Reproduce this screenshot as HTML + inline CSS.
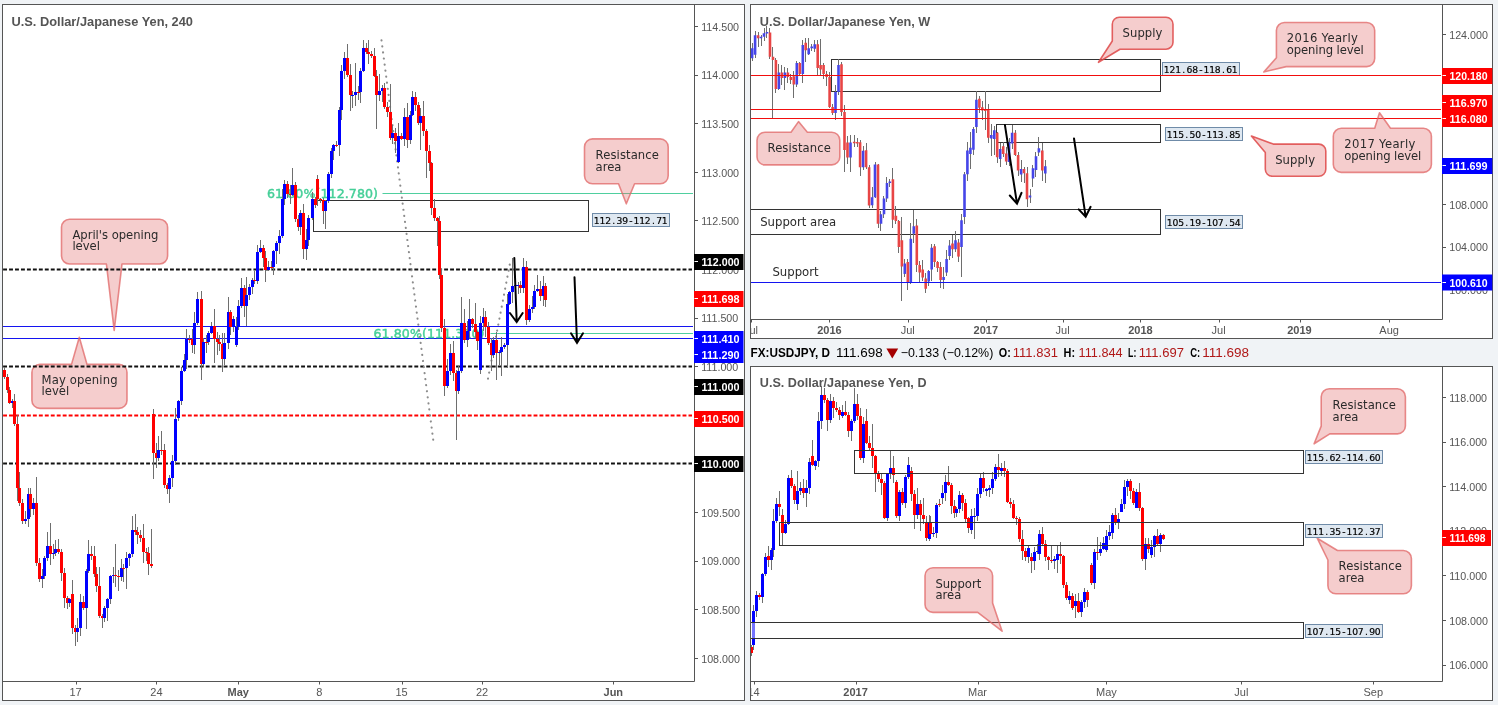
<!DOCTYPE html><html><head><meta charset="utf-8"><title>USDJPY charts</title>
<style>html,body{margin:0;padding:0;background:#f0f3f6}svg{display:block;will-change:transform}</style></head><body>
<svg width="1498" height="705" viewBox="0 0 1498 705">
<rect width="1498" height="705" fill="#f0f3f6"/>
<defs><clipPath id="cL"><rect x="3" y="5" width="690.5" height="676"/></clipPath>
<clipPath id="cW"><rect x="751" y="5" width="690.5" height="314"/></clipPath>
<clipPath id="cD"><rect x="751" y="367" width="690.5" height="314"/></clipPath>
<clipPath id="cWx"><rect x="751" y="320" width="740" height="18"/></clipPath>
<clipPath id="cDx"><rect x="751" y="682" width="740" height="18"/></clipPath></defs>
<rect x="2.5" y="4.5" width="742" height="696" fill="#fff" stroke="#555" stroke-width="1"/>
<path d="M694.5 4.5V681.5H2.5" stroke="#555" stroke-width="1" fill="none"/>
<g clip-path="url(#cL)">
<text x="11.5" y="26" font-family='"Liberation Sans",Arial,sans-serif' font-size="12.6" font-weight="bold" fill="#555" textLength="181.5" lengthAdjust="spacingAndGlyphs">U.S. Dollar/Japanese Yen, 240</text>
<path d="M3 326.5H693M3 338.5H693" stroke="#1414f0" stroke-width="1.1" fill="none"/>
<path d="M382.5 193.5H693M490.5 333.5H693" stroke="#4fcf9f" stroke-width="1.1" fill="none"/>
<path d="M69.5 219.3H159.6A8 8 0 0 1 167.6 227.3V256A8 8 0 0 1 159.6 264H122L114.2 330.4L106.4 264H69.5A8 8 0 0 1 61.5 256V227.3A8 8 0 0 1 69.5 219.3Z" fill="rgba(224,102,102,0.33)" stroke="rgba(224,102,102,0.75)" stroke-width="1.6" stroke-linejoin="round"/>
<text x="72.4" y="238.7" font-family='"DejaVu Sans",Verdana,sans-serif' font-size="11.6" fill="#2a2a2a" textLength="86" lengthAdjust="spacing">April's opening</text>
<text x="72.4" y="250" font-family='"DejaVu Sans",Verdana,sans-serif' font-size="11.6" fill="#2a2a2a">level</text>
<path d="M39.9 364.4H71.5L79.3 337.3L87 364.4H119A8 8 0 0 1 127 372.4V400.4A8 8 0 0 1 119 408.4H39.9A8 8 0 0 1 31.9 400.4V372.4A8 8 0 0 1 39.9 364.4Z" fill="rgba(224,102,102,0.33)" stroke="rgba(224,102,102,0.75)" stroke-width="1.6" stroke-linejoin="round"/>
<text x="41.6" y="384" font-family='"DejaVu Sans",Verdana,sans-serif' font-size="11.6" fill="#2a2a2a" textLength="76" lengthAdjust="spacing">May opening</text>
<text x="41.6" y="395.3" font-family='"DejaVu Sans",Verdana,sans-serif' font-size="11.6" fill="#2a2a2a">level</text>
<path d="M3.1 269.5H692" stroke="#111" stroke-width="2" stroke-dasharray="3.9 2.06" fill="none"/>
<path d="M3.1 366.6H692" stroke="#111" stroke-width="2" stroke-dasharray="3.9 2.06" fill="none"/>
<path d="M3.1 463.5H692" stroke="#111" stroke-width="2" stroke-dasharray="3.9 2.06" fill="none"/>
<path d="M3.1 415.4H692" stroke="#f00" stroke-width="2" stroke-dasharray="3.9 2.06" fill="none"/>
<rect x="313.5" y="200.5" width="275" height="31" fill="none" stroke="#333" stroke-width="1"/>
<text x="267" y="198" font-family='"DejaVu Sans",Verdana,sans-serif' font-size="12.6" fill="#45cf98" stroke="#45cf98" stroke-width="0.45" textLength="111" lengthAdjust="spacing">61.80%(112.780)</text>
<text x="373.5" y="337.5" font-family='"DejaVu Sans",Verdana,sans-serif' font-size="12.6" fill="#45cf98" stroke="#45cf98" stroke-width="0.45" textLength="111" lengthAdjust="spacing">61.80%(111.310)</text>
<path d="M381.5 40.3L433.2 439.7" stroke="#8c8c8c" stroke-width="2.1" stroke-dasharray="0.1 6" stroke-linecap="round" fill="none"/>
<path d="M488 378.6L510.7 259.4" stroke="#8c8c8c" stroke-width="2.1" stroke-dasharray="0.1 6" stroke-linecap="round" fill="none"/>
<path d="M4.5 367V379M7.5 374V393M9.5 387V404M12.5 399V408M14.5 394V426M17.5 415V501M19.5 472V506M22.5 499V524M25.5 511V524M28.5 488V527M30.5 488V517M33.5 498V515M36.5 477V566M39.5 558V582M42.5 569V588M44.5 556V579M47.5 532V561M50.5 523V565M53.5 544V559M55.5 540V556M58.5 539V554M61.5 549V581M64.5 568V608M67.5 596V609M69.5 598V607M72.5 580V634M75.5 625V646M77.5 618V642M80.5 594V636M83.5 596V610M86.5 569V629M88.5 540V573M91.5 546V560M94.5 546V577M96.5 567V592M99.5 567V618M102.5 614V628M104.5 606V622M107.5 598V621M110.5 575V604M113.5 567V583M115.5 544V587M118.5 570V591M121.5 559V581M123.5 564V582M126.5 552V589M129.5 553V566M132.5 516V557M135.5 514V535M137.5 527V544M140.5 530V542M143.5 524V563M146.5 548V561M148.5 547V575M151.5 529V568M153.5 409V479M156.5 443V468M158.5 436V461M161.5 431V455M164.5 444V488M167.5 483V494M169.5 475V503M172.5 455V487M175.5 408V465M178.5 400V421M181.5 367V405M184.5 354V372M186.5 329V369M189.5 335V343M192.5 329V353M194.5 312V354M197.5 292V325M201.5 291V380M203.5 338V366M206.5 335V353M208.5 331V345M211.5 322V334M214.5 309V363M217.5 332V355M219.5 335V351M222.5 333V372M224.5 333V365M228.5 297V349M230.5 310V335M233.5 316V332M236.5 317V347M238.5 300V330M241.5 278V308M244.5 285V317M246.5 277V326M249.5 284V300M252.5 278V294M254.5 271V284M257.5 245V284M260.5 240V253M263.5 245V267M265.5 251V282M268.5 261V271M271.5 261V270M273.5 250V275M276.5 241V264M279.5 230V254M282.5 189V238M284.5 180V205M287.5 181V198M290.5 185V204M292.5 168V196M295.5 182V222M298.5 215V231M300.5 210V235M303.5 204V259M306.5 229V260M308.5 215V246M312.5 192V220M315.5 197V208M317.5 175V206M320.5 198V203M323.5 198V224M325.5 200V229M328.5 172V203M331.5 148V178M333.5 144V160M336.5 141V147M339.5 107V156M341.5 65V120M344.5 52V79M347.5 44V77M350.5 64V111M352.5 91V108M355.5 63V106M358.5 86V100M360.5 68V103M363.5 40V72M366.5 43V54M368.5 40V64M371.5 51V58M374.5 48V77M376.5 70V129M379.5 74V101M382.5 85V102M384.5 83V109M387.5 102V117M390.5 84V140M392.5 125V144M395.5 128V153M398.5 123V163M401.5 133V140M404.5 108V146M407.5 103V148M410.5 111V144M412.5 91V116M415.5 92V111M418.5 102V125M420.5 108V150M423.5 101V136M426.5 129V178M429.5 145V171M431.5 162V215M434.5 199V221M437.5 217V246M439.5 216V279M441.5 269V332M444.5 319V396M447.5 359V388M450.5 344V375M453.5 341V381M456.5 370V440M458.5 366V394M461.5 297V373M464.5 309V343M467.5 321V347M469.5 299V338M472.5 318V328M475.5 303V338M477.5 331V350M480.5 316V374M483.5 308V331M485.5 311V337M488.5 322V345M491.5 338V371M493.5 337V358M496.5 332V380M499.5 350V365M501.5 337V376M504.5 343V349M507.5 294V368M509.5 291V305M512.5 258V303M515.5 278V288M518.5 282V294M520.5 281V293M523.5 258V293M526.5 261V325M529.5 305V322M532.5 296V313M534.5 285V309M537.5 275V292M540.5 281V301M543.5 276V306M545.5 283V307" stroke="#6e6e6e" stroke-width="1" fill="none"/>
<path d="M3 370h3v7h-3zM6 377h3v13h-3zM8 390h3v13h-3z" fill="#ff0000"/>
<path d="M11 401h3v2h-3z" fill="#0000ff"/>
<path d="M13 401h3v23h-3zM16 424h3v64h-3zM18 488h3v15h-3zM21 503h3v18h-3z" fill="#ff0000"/>
<path d="M24 519h3v2h-3zM27 494h3v25h-3z" fill="#0000ff"/>
<path d="M29 494h3v15h-3z" fill="#ff0000"/>
<path d="M32 503h3v6h-3z" fill="#0000ff"/>
<path d="M35 503h3v60h-3zM38 563h3v16h-3z" fill="#ff0000"/>
<path d="M41 576h3v3h-3zM43 558h3v18h-3zM46 546h3v12h-3z" fill="#0000ff"/>
<path d="M49 546h3v8h-3z" fill="#ff0000"/>
<path d="M52 553h3v1h-3zM54 549h3v4h-3z" fill="#0000ff"/>
<path d="M57 549h3v3h-3zM60 552h3v21h-3zM63 573h3v25h-3zM66 598h3v5h-3z" fill="#ff0000"/>
<path d="M68 599h3v4h-3z" fill="#0000ff"/>
<path d="M71 594h3v34h-3zM74 628h3v4h-3z" fill="#ff0000"/>
<path d="M76 628h3v4h-3zM79 602h3v26h-3z" fill="#0000ff"/>
<path d="M82 602h3v6h-3z" fill="#ff0000"/>
<path d="M85 571h3v37h-3zM87 554h3v17h-3z" fill="#0000ff"/>
<path d="M90 554h3v2h-3zM93 556h3v18h-3zM95 574h3v12h-3zM98 586h3v30h-3zM101 616h3v2h-3z" fill="#ff0000"/>
<path d="M103 608h3v10h-3zM106 599h3v9h-3zM109 576h3v23h-3zM112 575h3v1h-3z" fill="#0000ff"/>
<path d="M114 575h3v1h-3zM117 576h3v1h-3z" fill="#ff0000"/>
<path d="M120 568h3v9h-3z" fill="#0000ff"/>
<path d="M122 568h3v1h-3z" fill="#ff0000"/>
<path d="M125 558h3v10h-3zM128 554h3v4h-3zM131 530h3v24h-3z" fill="#0000ff"/>
<path d="M134 530h3v2h-3zM136 532h3v3h-3zM139 535h3v3h-3zM142 538h3v14h-3zM145 552h3v1h-3zM147 553h3v11h-3zM150 564h3v2h-3zM152 414h3v39h-3zM155 453h3v5h-3z" fill="#ff0000"/>
<path d="M157 450h3v8h-3z" fill="#0000ff"/>
<path d="M160 450h3v1h-3zM163 450h3v35h-3zM166 485h3v4h-3z" fill="#ff0000"/>
<path d="M168 478h3v11h-3zM171 461h3v17h-3zM174 419h3v42h-3zM177 401h3v17h-3zM180 371h3v30h-3zM183 360h3v11h-3zM185 339h3v21h-3z" fill="#0000ff"/>
<path d="M188 339h3v1h-3zM191 339h3v6h-3z" fill="#ff0000"/>
<path d="M193 323h3v22h-3zM196 299h3v24h-3z" fill="#0000ff"/>
<path d="M200 299h3v65h-3z" fill="#ff0000"/>
<path d="M202 342h3v22h-3z" fill="#0000ff"/>
<path d="M205 342h3v1h-3z" fill="#ff0000"/>
<path d="M207 333h3v9h-3zM210 326h3v7h-3z" fill="#0000ff"/>
<path d="M213 326h3v13h-3zM216 339h3v3h-3zM218 342h3v2h-3zM221 344h3v15h-3z" fill="#ff0000"/>
<path d="M223 343h3v16h-3zM227 312h3v31h-3z" fill="#0000ff"/>
<path d="M229 312h3v15h-3z" fill="#ff0000"/>
<path d="M232 319h3v8h-3zM235 327h3v18h-3zM237 306h3v21h-3zM240 288h3v18h-3z" fill="#0000ff"/>
<path d="M243 288h3v18h-3z" fill="#ff0000"/>
<path d="M245 295h3v11h-3zM248 287h3v8h-3zM251 280h3v7h-3z" fill="#0000ff"/>
<path d="M253 280h3v1h-3z" fill="#ff0000"/>
<path d="M256 252h3v29h-3zM259 248h3v4h-3z" fill="#0000ff"/>
<path d="M262 248h3v10h-3zM264 258h3v12h-3z" fill="#ff0000"/>
<path d="M267 267h3v3h-3z" fill="#0000ff"/>
<path d="M270 267h3v1h-3z" fill="#ff0000"/>
<path d="M272 251h3v16h-3zM275 243h3v8h-3zM278 236h3v7h-3zM281 199h3v37h-3zM283 184h3v15h-3z" fill="#0000ff"/>
<path d="M286 184h3v10h-3zM289 194h3v1h-3z" fill="#ff0000"/>
<path d="M291 185h3v10h-3z" fill="#0000ff"/>
<path d="M294 185h3v34h-3zM297 219h3v8h-3z" fill="#ff0000"/>
<path d="M299 213h3v14h-3z" fill="#0000ff"/>
<path d="M302 213h3v36h-3z" fill="#ff0000"/>
<path d="M305 240h3v9h-3zM307 218h3v22h-3zM311 199h3v19h-3z" fill="#0000ff"/>
<path d="M314 199h3v6h-3zM316 179h3v20h-3zM319 199h3v1h-3zM322 200h3v11h-3z" fill="#ff0000"/>
<path d="M324 201h3v10h-3zM327 174h3v27h-3zM330 151h3v23h-3zM332 145h3v6h-3z" fill="#0000ff"/>
<path d="M335 145h3v1h-3z" fill="#ff0000"/>
<path d="M338 110h3v35h-3zM340 71h3v39h-3zM343 58h3v13h-3z" fill="#0000ff"/>
<path d="M346 58h3v17h-3zM349 75h3v20h-3z" fill="#ff0000"/>
<path d="M351 95h3v1h-3zM354 92h3v3h-3z" fill="#0000ff"/>
<path d="M357 92h3v1h-3z" fill="#ff0000"/>
<path d="M359 71h3v21h-3zM362 48h3v23h-3z" fill="#0000ff"/>
<path d="M365 48h3v4h-3zM367 52h3v2h-3zM370 54h3v2h-3zM373 56h3v20h-3zM375 76h3v19h-3z" fill="#ff0000"/>
<path d="M378 91h3v4h-3zM381 88h3v3h-3z" fill="#0000ff"/>
<path d="M383 88h3v19h-3zM386 107h3v5h-3zM389 112h3v26h-3z" fill="#ff0000"/>
<path d="M391 133h3v5h-3z" fill="#0000ff"/>
<path d="M394 133h3v8h-3z" fill="#ff0000"/>
<path d="M397 136h3v26h-3z" fill="#0000ff"/>
<path d="M400 136h3v3h-3z" fill="#ff0000"/>
<path d="M403 117h3v22h-3z" fill="#0000ff"/>
<path d="M406 117h3v23h-3z" fill="#ff0000"/>
<path d="M409 115h3v25h-3zM411 97h3v18h-3z" fill="#0000ff"/>
<path d="M414 97h3v8h-3zM417 105h3v18h-3z" fill="#ff0000"/>
<path d="M419 116h3v7h-3z" fill="#0000ff"/>
<path d="M422 116h3v15h-3zM425 131h3v20h-3zM428 151h3v12h-3zM430 163h3v45h-3zM433 208h3v10h-3zM436 218h3v3h-3zM438 221h3v54h-3zM440 275h3v53h-3zM443 328h3v58h-3z" fill="#ff0000"/>
<path d="M446 371h3v15h-3zM449 353h3v18h-3z" fill="#0000ff"/>
<path d="M452 353h3v20h-3zM455 373h3v18h-3z" fill="#ff0000"/>
<path d="M457 371h3v20h-3zM460 323h3v48h-3z" fill="#0000ff"/>
<path d="M463 323h3v17h-3z" fill="#ff0000"/>
<path d="M466 331h3v9h-3zM468 319h3v12h-3z" fill="#0000ff"/>
<path d="M471 319h3v5h-3zM474 324h3v8h-3zM476 332h3v9h-3z" fill="#ff0000"/>
<path d="M479 323h3v47h-3zM482 317h3v6h-3z" fill="#0000ff"/>
<path d="M484 317h3v10h-3zM487 327h3v16h-3zM490 343h3v12h-3z" fill="#ff0000"/>
<path d="M492 340h3v15h-3z" fill="#0000ff"/>
<path d="M495 340h3v13h-3z" fill="#ff0000"/>
<path d="M498 352h3v1h-3zM500 347h3v5h-3zM503 345h3v2h-3zM506 304h3v41h-3zM508 292h3v12h-3zM511 286h3v6h-3zM514 285h3v1h-3zM517 285h3v1h-3z" fill="#0000ff"/>
<path d="M519 285h3v3h-3z" fill="#ff0000"/>
<path d="M522 267h3v21h-3z" fill="#0000ff"/>
<path d="M525 267h3v53h-3z" fill="#ff0000"/>
<path d="M528 309h3v11h-3zM531 307h3v2h-3zM533 291h3v16h-3zM536 289h3v2h-3z" fill="#0000ff"/>
<path d="M539 289h3v7h-3z" fill="#ff0000"/>
<path d="M542 286h3v10h-3z" fill="#0000ff"/>
<path d="M544 286h3v14h-3z" fill="#ff0000"/>
<path d="M514.3 257.9L516.7 322M509.9 313L516.7 322L522.7 313" stroke="#000" stroke-width="2" fill="none" stroke-linecap="round" stroke-linejoin="miter"/>
<path d="M574.5 277.3L577 342.8M571 333.3L577 342.8L583 333.3" stroke="#000" stroke-width="2" fill="none" stroke-linecap="round" stroke-linejoin="miter"/>
<path d="M592.5 138.9H660.2A8 8 0 0 1 668.2 146.9V175.8A8 8 0 0 1 660.2 183.8H634.6L626.3 203.8L618.5 183.8H592.5A8 8 0 0 1 584.5 175.8V146.9A8 8 0 0 1 592.5 138.9Z" fill="rgba(224,102,102,0.33)" stroke="rgba(224,102,102,0.75)" stroke-width="1.6" stroke-linejoin="round"/>
<text x="595.6" y="158.6" font-family='"DejaVu Sans",Verdana,sans-serif' font-size="11.6" fill="#2a2a2a" textLength="63.3" lengthAdjust="spacing">Resistance</text>
<text x="595.6" y="170.6" font-family='"DejaVu Sans",Verdana,sans-serif' font-size="11.6" fill="#2a2a2a">area</text>
<rect x="592.5" y="213.5" width="77" height="13" fill="#dfe8f1" stroke="#6f8ba8" stroke-width="1"/>
<text x="596.7 602.4 608.1 613.7 619.4 625.1 630.8 636.4 642.1 647.8 653.4 659.1 664.8" y="223.7" font-family='"DejaVu Sans",Verdana,sans-serif' font-size="9.2" fill="#000" stroke="#000" stroke-width="0.2" text-anchor="middle">112.39-112.71</text>
</g>
<path d="M694.5 26.5h3.5" stroke="#555" stroke-width="1"/>
<text x="701.2" y="30.7" font-family='"Liberation Sans",Arial,sans-serif' font-size="10.7" fill="#555">114.500</text>
<path d="M694.5 75.5h3.5" stroke="#555" stroke-width="1"/>
<text x="701.2" y="79.3" font-family='"Liberation Sans",Arial,sans-serif' font-size="10.7" fill="#555">114.000</text>
<path d="M694.5 123.5h3.5" stroke="#555" stroke-width="1"/>
<text x="701.2" y="127.9" font-family='"Liberation Sans",Arial,sans-serif' font-size="10.7" fill="#555">113.500</text>
<path d="M694.5 172.5h3.5" stroke="#555" stroke-width="1"/>
<text x="701.2" y="176.5" font-family='"Liberation Sans",Arial,sans-serif' font-size="10.7" fill="#555">113.000</text>
<path d="M694.5 220.5h3.5" stroke="#555" stroke-width="1"/>
<text x="701.2" y="225.1" font-family='"Liberation Sans",Arial,sans-serif' font-size="10.7" fill="#555">112.500</text>
<path d="M694.5 269.5h3.5" stroke="#555" stroke-width="1"/>
<text x="701.2" y="273.7" font-family='"Liberation Sans",Arial,sans-serif' font-size="10.7" fill="#555">112.000</text>
<path d="M694.5 318.5h3.5" stroke="#555" stroke-width="1"/>
<text x="701.2" y="322.3" font-family='"Liberation Sans",Arial,sans-serif' font-size="10.7" fill="#555">111.500</text>
<path d="M694.5 366.5h3.5" stroke="#555" stroke-width="1"/>
<text x="701.2" y="371" font-family='"Liberation Sans",Arial,sans-serif' font-size="10.7" fill="#555">111.000</text>
<path d="M694.5 415.5h3.5" stroke="#555" stroke-width="1"/>
<text x="701.2" y="419.6" font-family='"Liberation Sans",Arial,sans-serif' font-size="10.7" fill="#555">110.500</text>
<path d="M694.5 463.5h3.5" stroke="#555" stroke-width="1"/>
<text x="701.2" y="468.2" font-family='"Liberation Sans",Arial,sans-serif' font-size="10.7" fill="#555">110.000</text>
<path d="M694.5 512.5h3.5" stroke="#555" stroke-width="1"/>
<text x="701.2" y="516.8" font-family='"Liberation Sans",Arial,sans-serif' font-size="10.7" fill="#555">109.500</text>
<path d="M694.5 561.5h3.5" stroke="#555" stroke-width="1"/>
<text x="701.2" y="565.4" font-family='"Liberation Sans",Arial,sans-serif' font-size="10.7" fill="#555">109.000</text>
<path d="M694.5 609.5h3.5" stroke="#555" stroke-width="1"/>
<text x="701.2" y="614" font-family='"Liberation Sans",Arial,sans-serif' font-size="10.7" fill="#555">108.500</text>
<path d="M694.5 658.5h3.5" stroke="#555" stroke-width="1"/>
<text x="701.2" y="662.6" font-family='"Liberation Sans",Arial,sans-serif' font-size="10.7" fill="#555">108.000</text>
<rect x="694" y="254" width="49.5" height="16" fill="#000"/>
<path d="M694.5 261.5h3.5" stroke="#fff" stroke-width="1"/>
<text x="701.5" y="266.2" font-family='"Liberation Sans",Arial,sans-serif' font-size="11" font-weight="bold" fill="#fff" textLength="38" lengthAdjust="spacingAndGlyphs">112.000</text>
<rect x="694" y="291" width="49.5" height="16" fill="#f00"/>
<path d="M694.5 298.5h3.5" stroke="#fff" stroke-width="1"/>
<text x="701.5" y="303.2" font-family='"Liberation Sans",Arial,sans-serif' font-size="11" font-weight="bold" fill="#fff" textLength="38" lengthAdjust="spacingAndGlyphs">111.698</text>
<rect x="694" y="331" width="49.5" height="16" fill="#00f"/>
<path d="M694.5 338.5h3.5" stroke="#fff" stroke-width="1"/>
<text x="701.5" y="343.2" font-family='"Liberation Sans",Arial,sans-serif' font-size="11" font-weight="bold" fill="#fff" textLength="38" lengthAdjust="spacingAndGlyphs">111.410</text>
<rect x="694" y="347" width="49.5" height="16" fill="#00f"/>
<path d="M694.5 354.5h3.5" stroke="#fff" stroke-width="1"/>
<text x="701.5" y="359.2" font-family='"Liberation Sans",Arial,sans-serif' font-size="11" font-weight="bold" fill="#fff" textLength="38" lengthAdjust="spacingAndGlyphs">111.290</text>
<rect x="694" y="379" width="49.5" height="16" fill="#000"/>
<path d="M694.5 386.5h3.5" stroke="#fff" stroke-width="1"/>
<text x="701.5" y="391.2" font-family='"Liberation Sans",Arial,sans-serif' font-size="11" font-weight="bold" fill="#fff" textLength="38" lengthAdjust="spacingAndGlyphs">111.000</text>
<rect x="694" y="411" width="49.5" height="16" fill="#f00"/>
<path d="M694.5 418.5h3.5" stroke="#fff" stroke-width="1"/>
<text x="701.5" y="423.2" font-family='"Liberation Sans",Arial,sans-serif' font-size="11" font-weight="bold" fill="#fff" textLength="38" lengthAdjust="spacingAndGlyphs">110.500</text>
<rect x="694" y="456" width="49.5" height="16" fill="#000"/>
<path d="M694.5 463.5h3.5" stroke="#fff" stroke-width="1"/>
<text x="701.5" y="468.2" font-family='"Liberation Sans",Arial,sans-serif' font-size="11" font-weight="bold" fill="#fff" textLength="38" lengthAdjust="spacingAndGlyphs">110.000</text>
<path d="M76.5 681.5v3" stroke="#555" stroke-width="1"/>
<text x="75.6" y="696" font-family='"Liberation Sans",Arial,sans-serif' font-size="11" fill="#555" text-anchor="middle">17</text>
<path d="M156.5 681.5v3" stroke="#555" stroke-width="1"/>
<text x="156.4" y="696" font-family='"Liberation Sans",Arial,sans-serif' font-size="11" fill="#555" text-anchor="middle">24</text>
<path d="M238.5 681.5v3" stroke="#555" stroke-width="1"/>
<text x="238.3" y="696" font-family='"Liberation Sans",Arial,sans-serif' font-size="11" fill="#555" text-anchor="middle" font-weight="bold">May</text>
<path d="M319.5 681.5v3" stroke="#555" stroke-width="1"/>
<text x="319.4" y="696" font-family='"Liberation Sans",Arial,sans-serif' font-size="11" fill="#555" text-anchor="middle">8</text>
<path d="M402.5 681.5v3" stroke="#555" stroke-width="1"/>
<text x="401.5" y="696" font-family='"Liberation Sans",Arial,sans-serif' font-size="11" fill="#555" text-anchor="middle">15</text>
<path d="M482.5 681.5v3" stroke="#555" stroke-width="1"/>
<text x="482.1" y="696" font-family='"Liberation Sans",Arial,sans-serif' font-size="11" fill="#555" text-anchor="middle">22</text>
<path d="M613.5 681.5v3" stroke="#555" stroke-width="1"/>
<text x="613.3" y="696" font-family='"Liberation Sans",Arial,sans-serif' font-size="11" fill="#555" text-anchor="middle" font-weight="bold">Jun</text>
<rect x="750.5" y="4.5" width="742" height="334" fill="#fff" stroke="#555" stroke-width="1"/>
<path d="M1442.5 4.5V319.5H750.5" stroke="#555" stroke-width="1" fill="none"/>
<g clip-path="url(#cW)">
<text x="759.8" y="25.5" font-family='"Liberation Sans",Arial,sans-serif' font-size="12.6" font-weight="bold" fill="#555" textLength="170.5" lengthAdjust="spacingAndGlyphs">U.S. Dollar/Japanese Yen, W</text>
<rect x="831.5" y="59.5" width="329" height="32" fill="none" stroke="#333"/>
<rect x="996.5" y="124.5" width="164" height="18" fill="none" stroke="#333"/>
<rect x="740.5" y="209.5" width="420" height="25" fill="none" stroke="#333"/>
<path d="M752.5 43V61M755.5 31V58M758.5 32V47M761.5 35V46M764.5 28V41M766.5 26V38M769.5 28V59M772.5 47V118M775.5 58V93M778.5 64V90M781.5 65V85M784.5 67V90M787.5 68V83M790.5 74V84M793.5 71V98M796.5 61V87M799.5 62V76M802.5 40V83M805.5 38V62M808.5 38V55M811.5 44V51M814.5 40V52M817.5 40V76M820.5 39V75M823.5 63V79M826.5 71V86M829.5 72V108M832.5 104V115M835.5 85V120M838.5 59V95M841.5 62V116M844.5 105V172M847.5 136V164M850.5 135V172M854.5 135V147M857.5 138V147M860.5 140V176M863.5 146V170M866.5 143V169M869.5 165V208M872.5 187V208M875.5 162V198M878.5 164V228M880.5 211V231M883.5 196V218M886.5 177V202M889.5 179V187M892.5 168V228M895.5 206V224M898.5 220V253M901.5 217V301M904.5 259V277M907.5 259V290M910.5 223V284M913.5 210V243M916.5 219V272M919.5 261V282M922.5 260V281M925.5 273V293M928.5 270V286M931.5 244V281M934.5 244V267M937.5 261V272M940.5 262V288M943.5 267V289M946.5 250V276M949.5 240V260M952.5 235V258M955.5 231V252M958.5 239V262M961.5 214V277M964.5 172V224M967.5 142V181M970.5 132V169M973.5 127V155M976.5 91V133M979.5 96V113M982.5 101V120M985.5 91V130M988.5 104V143M991.5 124V156M994.5 126V155M997.5 132V163M1000.5 143V167M1003.5 142V157M1006.5 147V165M1009.5 138V166M1012.5 125V149M1015.5 130V156M1018.5 152V176M1021.5 160V182M1024.5 167V183M1027.5 167V207M1030.5 189V203M1032.5 165V187M1035.5 152V177M1038.5 137V156M1042.5 143V181M1045.5 160V183" stroke="#6e6e6e" stroke-width="1" fill="none"/>
<path d="M750.8 48.2h2.6v10.1h-2.6zM753.8 35.3h2.6v19.4h-2.6z" fill="#4545e8"/>
<path d="M756.8 35.3h2.6v3h-2.6z" fill="#e84545"/>
<path d="M759.7 36.8h2.6v1.5h-2.6zM762.7 33.2h2.6v3.6h-2.6zM765.7 32.1h2.6v1.4h-2.6z" fill="#4545e8"/>
<path d="M768.7 32.4h2.6v24.4h-2.6zM771.7 56.8h2.6v3.3h-2.6zM774.6 60.1h2.6v28.9h-2.6z" fill="#e84545"/>
<path d="M777.6 72.6h2.6v16.4h-2.6z" fill="#4545e8"/>
<path d="M780.6 72.6h2.6v5.4h-2.6z" fill="#e84545"/>
<path d="M783.6 72.6h2.6v5.4h-2.6z" fill="#4545e8"/>
<path d="M786.6 72.6h2.6v4.5h-2.6zM789.5 77.1h2.6v3h-2.6zM792.5 76.2h2.6v8.3h-2.6z" fill="#e84545"/>
<path d="M795.5 63.1h2.6v21.5h-2.6z" fill="#4545e8"/>
<path d="M798.5 63.1h2.6v11h-2.6z" fill="#e84545"/>
<path d="M801.5 44.9h2.6v29.2h-2.6z" fill="#4545e8"/>
<path d="M804.4 42.8h2.6v7.5h-2.6z" fill="#e84545"/>
<path d="M807.4 48.2h2.6v6h-2.6zM810.4 46.4h2.6v1.8h-2.6zM813.4 44.3h2.6v4.5h-2.6z" fill="#4545e8"/>
<path d="M816.4 44.3h2.6v23.8h-2.6zM819.3 65.1h2.6v4.5h-2.6zM822.3 65.1h2.6v8.9h-2.6zM825.3 74.1h2.6v3h-2.6zM828.3 77.1h2.6v29.8h-2.6zM831.3 106.9h2.6v6h-2.6z" fill="#e84545"/>
<path d="M834.2 92h2.6v20.9h-2.6zM837.2 65.1h2.6v26.8h-2.6z" fill="#4545e8"/>
<path d="M840.2 64.2h2.6v47.7h-2.6zM843.2 111.9h2.6v38.2h-2.6zM846.2 142.6h2.6v14.9h-2.6z" fill="#e84545"/>
<path d="M849.2 142.6h2.6v14.9h-2.6z" fill="#4545e8"/>
<path d="M852.9 141.8h2.6v1.4h-2.6zM855.9 142.1h2.6v1.4h-2.6zM858.8 142.2h2.6v25h-2.6z" fill="#e84545"/>
<path d="M861.8 150.8h2.6v16.4h-2.6z" fill="#4545e8"/>
<path d="M864.8 150.2h2.6v17h-2.6zM867.8 167.2h2.6v38.2h-2.6z" fill="#e84545"/>
<path d="M870.8 197.3h2.6v8h-2.6zM873.7 164.5h2.6v32.8h-2.6z" fill="#4545e8"/>
<path d="M876.7 164.5h2.6v59.3h-2.6z" fill="#e84545"/>
<path d="M879.7 214.3h2.6v9.5h-2.6zM882.7 198.5h2.6v15.8h-2.6zM885.7 183h2.6v15.5h-2.6zM888.6 181.5h2.6v1.5h-2.6z" fill="#4545e8"/>
<path d="M891.6 179.2h2.6v40.5h-2.6zM894.6 215.8h2.6v5.1h-2.6zM897.6 220.9h2.6v26.2h-2.6zM900.6 240.3h2.6v26.2h-2.6z" fill="#e84545"/>
<path d="M903.5 263.5h2.6v10.4h-2.6z" fill="#4545e8"/>
<path d="M906.5 262h2.6v20.9h-2.6z" fill="#e84545"/>
<path d="M909.5 238.8h2.6v44.1h-2.6zM912.5 226.2h2.6v7.5h-2.6z" fill="#4545e8"/>
<path d="M915.5 225.6h2.6v39.3h-2.6zM918.4 265h2.6v7.5h-2.6zM921.4 269.5h2.6v8h-2.6zM924.4 278.4h2.6v10.4h-2.6z" fill="#e84545"/>
<path d="M927.4 271h2.6v10.4h-2.6zM930.4 247.7h2.6v21.8h-2.6z" fill="#4545e8"/>
<path d="M933.3 246.2h2.6v15.8h-2.6zM936.3 262h2.6v6h-2.6zM939.3 267.1h2.6v12.8h-2.6z" fill="#e84545"/>
<path d="M942.3 276.9h2.6v3h-2.6zM945.3 259h2.6v13.4h-2.6zM948.3 245.6h2.6v10.4h-2.6z" fill="#4545e8"/>
<path d="M951.2 243.5h2.6v5.7h-2.6z" fill="#e84545"/>
<path d="M954.2 240.3h2.6v8.9h-2.6z" fill="#4545e8"/>
<path d="M957.2 242.6h2.6v14h-2.6z" fill="#e84545"/>
<path d="M960.2 220.3h2.6v26.8h-2.6zM963.2 174.3h2.6v42.6h-2.6zM966.1 150.4h2.6v23.8h-2.6zM969.1 147.7h2.6v6.4h-2.6zM972.1 129.1h2.6v20.6h-2.6zM975.1 99.8h2.6v27.2h-2.6z" fill="#4545e8"/>
<path d="M978.1 98.7h2.6v9.1h-2.6zM981 107.2h2.6v3.2h-2.6zM984 109.7h2.6v1.4h-2.6zM987 109.4h2.6v28.3h-2.6z" fill="#e84545"/>
<path d="M990 134.9h2.6v3.6h-2.6zM993 130.2h2.6v8.9h-2.6z" fill="#4545e8"/>
<path d="M995.9 132.8h2.6v24.5h-2.6z" fill="#e84545"/>
<path d="M998.9 149.1h2.6v9.8h-2.6z" fill="#4545e8"/>
<path d="M1001.9 146.2h2.6v7.9h-2.6zM1004.9 153.4h2.6v8.1h-2.6z" fill="#e84545"/>
<path d="M1007.8 142.3h2.6v19.6h-2.6zM1010.8 132.8h2.6v10.6h-2.6z" fill="#4545e8"/>
<path d="M1013.8 132.8h2.6v22.3h-2.6zM1016.8 155.1h2.6v15.3h-2.6z" fill="#e84545"/>
<path d="M1019.8 168.9h2.6v5.7h-2.6z" fill="#4545e8"/>
<path d="M1022.7 168.9h2.6v4.3h-2.6zM1025.7 173.2h2.6v26h-2.6z" fill="#e84545"/>
<path d="M1028.7 195.5h2.6v2.1h-2.6zM1031.7 168.3h2.6v10.2h-2.6zM1034.7 156.2h2.6v13.8h-2.6zM1037.6 148.3h2.6v4.3h-2.6z" fill="#4545e8"/>
<path d="M1041 150.4h2.6v20h-2.6z" fill="#e84545"/>
<path d="M1044 166.2h2.6v7.4h-2.6z" fill="#4545e8"/>
<rect x="1162.5" y="62.5" width="77" height="13" fill="#dfe8f1" stroke="#6f8ba8" stroke-width="1"/>
<text x="1166.7 1172.4 1178.1 1183.7 1189.4 1195.1 1200.8 1206.4 1212.1 1217.8 1223.4 1229.1 1234.8" y="72.7" font-family='"DejaVu Sans",Verdana,sans-serif' font-size="9.2" fill="#000" stroke="#000" stroke-width="0.2" text-anchor="middle">121.68-118.61</text>
<rect x="1165.5" y="127.5" width="77" height="13" fill="#dfe8f1" stroke="#6f8ba8" stroke-width="1"/>
<text x="1169.7 1175.4 1181.1 1186.7 1192.4 1198.1 1203.8 1209.4 1215.1 1220.8 1226.4 1232.1 1237.8" y="137.7" font-family='"DejaVu Sans",Verdana,sans-serif' font-size="9.2" fill="#000" stroke="#000" stroke-width="0.2" text-anchor="middle">115.50-113.85</text>
<rect x="1165.5" y="215.5" width="77" height="13" fill="#dfe8f1" stroke="#6f8ba8" stroke-width="1"/>
<text x="1169.7 1175.4 1181.1 1186.7 1192.4 1198.1 1203.8 1209.4 1215.1 1220.8 1226.4 1232.1 1237.8" y="225.7" font-family='"DejaVu Sans",Verdana,sans-serif' font-size="9.2" fill="#000" stroke="#000" stroke-width="0.2" text-anchor="middle">105.19-107.54</text>
<path d="M751 75.5H1441M751 109.5H1441M751 118.5H1441" stroke="#f20d0d" stroke-width="1.1" fill="none"/>
<path d="M751 282.5H1441" stroke="#1414f0" stroke-width="1.1" fill="none"/>
<path d="M1004.9 124.9L1017 203.6M1009.8 195.5L1017 203.6L1021.5 192.8" stroke="#000" stroke-width="2" fill="none" stroke-linecap="round" stroke-linejoin="miter"/>
<path d="M1074 138.5L1085.7 216.8M1078.7 209.4L1085.7 216.8L1090.6 206.8" stroke="#000" stroke-width="2" fill="none" stroke-linecap="round" stroke-linejoin="miter"/>
<path d="M765 132.2H791L798.5 121.6L807.4 132.2H831.8A8 8 0 0 1 839.8 140.2V156.9A8 8 0 0 1 831.8 164.9H765A8 8 0 0 1 757 156.9V140.2A8 8 0 0 1 765 132.2Z" fill="rgba(224,102,102,0.33)" stroke="rgba(224,102,102,0.75)" stroke-width="1.6" stroke-linejoin="round"/>
<text x="767.5" y="152" font-family='"DejaVu Sans",Verdana,sans-serif' font-size="11.6" fill="#2a2a2a" textLength="63.3" lengthAdjust="spacing">Resistance</text>
<path d="M1119.3 17.2H1166A7 7 0 0 1 1173 24.2V42.2A7 7 0 0 1 1166 49.2H1120L1098.5 62.3L1112.3 41V24.2A7 7 0 0 1 1119.3 17.2Z" fill="rgba(224,102,102,0.33)" stroke="rgba(222,72,72,0.85)" stroke-width="1.6" stroke-linejoin="round"/>
<text x="1122.6" y="36.8" font-family='"DejaVu Sans",Verdana,sans-serif' font-size="11.6" fill="#2a2a2a" textLength="39.8" lengthAdjust="spacing">Supply</text>
<path d="M1284.4 22.5H1366.7A8 8 0 0 1 1374.7 30.5V58.6A8 8 0 0 1 1366.7 66.6H1286.2L1263.8 72L1276.4 57.7V30.5A8 8 0 0 1 1284.4 22.5Z" fill="rgba(224,102,102,0.33)" stroke="rgba(224,102,102,0.75)" stroke-width="1.6" stroke-linejoin="round"/>
<text x="1286.8" y="42.2" font-family='"DejaVu Sans",Verdana,sans-serif' font-size="11.6" fill="#2a2a2a" textLength="71" lengthAdjust="spacing">2016 Yearly</text>
<text x="1286.8" y="53.8" font-family='"DejaVu Sans",Verdana,sans-serif' font-size="11.6" fill="#2a2a2a" textLength="77" lengthAdjust="spacing">opening level</text>
<path d="M1341.3 128.3H1374.7L1379.5 112.8L1390.5 128.3H1423.4A8 8 0 0 1 1431.4 136.3V164.4A8 8 0 0 1 1423.4 172.4H1341.3A8 8 0 0 1 1333.3 164.4V136.3A8 8 0 0 1 1341.3 128.3Z" fill="rgba(224,102,102,0.33)" stroke="rgba(224,102,102,0.75)" stroke-width="1.6" stroke-linejoin="round"/>
<text x="1344.3" y="148" font-family='"DejaVu Sans",Verdana,sans-serif' font-size="11.6" fill="#2a2a2a" textLength="71" lengthAdjust="spacing">2017 Yearly</text>
<text x="1344.3" y="159.6" font-family='"DejaVu Sans",Verdana,sans-serif' font-size="11.6" fill="#2a2a2a" textLength="77" lengthAdjust="spacing">opening level</text>
<path d="M1273.3 144.1H1318.8A7 7 0 0 1 1325.8 151.1V169.3A7 7 0 0 1 1318.8 176.3H1272.3A7 7 0 0 1 1265.3 169.3V152.5L1251.4 136Z" fill="rgba(224,102,102,0.33)" stroke="rgba(222,72,72,0.85)" stroke-width="1.6" stroke-linejoin="round"/>
<text x="1275.2" y="163.5" font-family='"DejaVu Sans",Verdana,sans-serif' font-size="11.6" fill="#2a2a2a" textLength="39.8" lengthAdjust="spacing">Supply</text>
<text x="760.2" y="225.8" font-family='"DejaVu Sans",Verdana,sans-serif' font-size="11.7" fill="#2a2a2a">Support area</text>
<text x="772.4" y="275.9" font-family='"DejaVu Sans",Verdana,sans-serif' font-size="11.7" fill="#2a2a2a">Support</text>
</g>
<path d="M1442.5 34.5h3.5" stroke="#555" stroke-width="1"/>
<text x="1449.2" y="38.6" font-family='"Liberation Sans",Arial,sans-serif' font-size="10.7" fill="#555">124.000</text>
<path d="M1442.5 204.5h3.5" stroke="#555" stroke-width="1"/>
<text x="1449.2" y="208.7" font-family='"Liberation Sans",Arial,sans-serif' font-size="10.7" fill="#555">108.000</text>
<path d="M1442.5 247.5h3.5" stroke="#555" stroke-width="1"/>
<text x="1449.2" y="251.2" font-family='"Liberation Sans",Arial,sans-serif' font-size="10.7" fill="#555">104.000</text>
<path d="M1442.5 289.5h3.5" stroke="#555" stroke-width="1"/>
<text x="1449.2" y="293.7" font-family='"Liberation Sans",Arial,sans-serif' font-size="10.7" fill="#555">100.000</text>
<rect x="1442" y="68" width="50.299999999999955" height="16" fill="#f00"/>
<path d="M1442.5 75.5h3.5" stroke="#fff" stroke-width="1"/>
<text x="1449.5" y="80.2" font-family='"Liberation Sans",Arial,sans-serif' font-size="11" font-weight="bold" fill="#fff" textLength="38" lengthAdjust="spacingAndGlyphs">120.180</text>
<rect x="1442" y="95" width="50.299999999999955" height="16" fill="#f00"/>
<path d="M1442.5 102.5h3.5" stroke="#fff" stroke-width="1"/>
<text x="1449.5" y="107.2" font-family='"Liberation Sans",Arial,sans-serif' font-size="11" font-weight="bold" fill="#fff" textLength="38" lengthAdjust="spacingAndGlyphs">116.970</text>
<rect x="1442" y="111" width="50.299999999999955" height="16" fill="#f00"/>
<path d="M1442.5 118.5h3.5" stroke="#fff" stroke-width="1"/>
<text x="1449.5" y="123.2" font-family='"Liberation Sans",Arial,sans-serif' font-size="11" font-weight="bold" fill="#fff" textLength="38" lengthAdjust="spacingAndGlyphs">116.080</text>
<rect x="1442" y="158" width="50.299999999999955" height="16" fill="#00f"/>
<path d="M1442.5 165.5h3.5" stroke="#fff" stroke-width="1"/>
<text x="1449.5" y="170.2" font-family='"Liberation Sans",Arial,sans-serif' font-size="11" font-weight="bold" fill="#fff" textLength="38" lengthAdjust="spacingAndGlyphs">111.699</text>
<rect x="1442" y="274.5" width="50.299999999999955" height="16" fill="#00f"/>
<path d="M1442.5 282.5h3.5" stroke="#fff" stroke-width="1"/>
<text x="1449.5" y="286.7" font-family='"Liberation Sans",Arial,sans-serif' font-size="11" font-weight="bold" fill="#fff" textLength="38" lengthAdjust="spacingAndGlyphs">100.610</text>
<g clip-path="url(#cWx)">
<path d="M751.5 319.5v3" stroke="#555" stroke-width="1"/>
<text x="751" y="334" font-family='"Liberation Sans",Arial,sans-serif' font-size="11" fill="#555" text-anchor="middle">Jul</text>
<path d="M829.5 319.5v3" stroke="#555" stroke-width="1"/>
<text x="829.4" y="334" font-family='"Liberation Sans",Arial,sans-serif' font-size="11" fill="#555" text-anchor="middle" font-weight="bold">2016</text>
<path d="M908.5 319.5v3" stroke="#555" stroke-width="1"/>
<text x="907.7" y="334" font-family='"Liberation Sans",Arial,sans-serif' font-size="11" fill="#555" text-anchor="middle">Jul</text>
<path d="M986.5 319.5v3" stroke="#555" stroke-width="1"/>
<text x="985.8" y="334" font-family='"Liberation Sans",Arial,sans-serif' font-size="11" fill="#555" text-anchor="middle" font-weight="bold">2017</text>
<path d="M1063.5 319.5v3" stroke="#555" stroke-width="1"/>
<text x="1062.6" y="334" font-family='"Liberation Sans",Arial,sans-serif' font-size="11" fill="#555" text-anchor="middle">Jul</text>
<path d="M1140.5 319.5v3" stroke="#555" stroke-width="1"/>
<text x="1140.5" y="334" font-family='"Liberation Sans",Arial,sans-serif' font-size="11" fill="#555" text-anchor="middle" font-weight="bold">2018</text>
<path d="M1219.5 319.5v3" stroke="#555" stroke-width="1"/>
<text x="1218.6" y="334" font-family='"Liberation Sans",Arial,sans-serif' font-size="11" fill="#555" text-anchor="middle">Jul</text>
<path d="M1300.5 319.5v3" stroke="#555" stroke-width="1"/>
<text x="1299.5" y="334" font-family='"Liberation Sans",Arial,sans-serif' font-size="11" fill="#555" text-anchor="middle" font-weight="bold">2019</text>
<path d="M1389.5 319.5v3" stroke="#555" stroke-width="1"/>
<text x="1389.1" y="334" font-family='"Liberation Sans",Arial,sans-serif' font-size="11" fill="#555" text-anchor="middle">Aug</text>
</g>
<text x="750.5" y="357.3" font-family='"Liberation Sans",Arial,sans-serif' font-size="12.5" fill="#000" font-weight="bold" textLength="79.6" lengthAdjust="spacingAndGlyphs">FX:USDJPY, D</text>
<text x="836.1" y="357.3" font-family='"Liberation Sans",Arial,sans-serif' font-size="12.5" fill="#000" textLength="46.6" lengthAdjust="spacingAndGlyphs">111.698</text>
<path d="M886.4 348.5H898.2L892.3 358.5Z" fill="#a50000"/>
<text x="900.7" y="357.3" font-family='"Liberation Sans",Arial,sans-serif' font-size="12.5" fill="#000" textLength="92.6" lengthAdjust="spacingAndGlyphs">−0.133 (−0.12%)</text>
<text x="998.8" y="357.3" font-family='"Liberation Sans",Arial,sans-serif' font-size="12.5" fill="#000" font-weight="bold" textLength="12" lengthAdjust="spacingAndGlyphs">O:</text>
<text x="1012.8" y="357.3" font-family='"Liberation Sans",Arial,sans-serif' font-size="12.5" fill="#b01818" textLength="45.1" lengthAdjust="spacingAndGlyphs">111.831</text>
<text x="1063.6" y="357.3" font-family='"Liberation Sans",Arial,sans-serif' font-size="12.5" fill="#000" font-weight="bold" textLength="11.5" lengthAdjust="spacingAndGlyphs">H:</text>
<text x="1078.6" y="357.3" font-family='"Liberation Sans",Arial,sans-serif' font-size="12.5" fill="#b01818" textLength="44" lengthAdjust="spacingAndGlyphs">111.844</text>
<text x="1128.1" y="357.3" font-family='"Liberation Sans",Arial,sans-serif' font-size="12.5" fill="#000" font-weight="bold" textLength="8.2" lengthAdjust="spacingAndGlyphs">L:</text>
<text x="1138.8" y="357.3" font-family='"Liberation Sans",Arial,sans-serif' font-size="12.5" fill="#b01818" textLength="45.1" lengthAdjust="spacingAndGlyphs">111.697</text>
<text x="1190.2" y="357.3" font-family='"Liberation Sans",Arial,sans-serif' font-size="12.5" fill="#000" font-weight="bold" textLength="10" lengthAdjust="spacingAndGlyphs">C:</text>
<text x="1202.2" y="357.3" font-family='"Liberation Sans",Arial,sans-serif' font-size="12.5" fill="#b01818" textLength="46.8" lengthAdjust="spacingAndGlyphs">111.698</text>
<rect x="750.5" y="366.5" width="742" height="334" fill="#fff" stroke="#555" stroke-width="1"/>
<path d="M1442.5 366.5V681.5H750.5" stroke="#555" stroke-width="1" fill="none"/>
<g clip-path="url(#cD)">
<text x="759.8" y="387.3" font-family='"Liberation Sans",Arial,sans-serif' font-size="12.6" font-weight="bold" fill="#555" textLength="166.7" lengthAdjust="spacingAndGlyphs">U.S. Dollar/Japanese Yen, D</text>
<path d="M751.5 645V656M753.5 605V650M756.5 591V617M759.5 593V600M762.5 573V603M765.5 553V576M768.5 546V567M771.5 548V570M773.5 509V557M776.5 498V523M779.5 491V516M782.5 509V546M785.5 520V534M788.5 475V525M791.5 470V488M794.5 484V504M797.5 471V510M800.5 482V495M803.5 479V498M806.5 480V507M809.5 458V494M812.5 440V466M815.5 460V470M818.5 412V467M821.5 386V429M824.5 388V403M827.5 398V431M830.5 394V423M833.5 397V418M836.5 402V412M839.5 407V420M842.5 405V418M845.5 401V416M848.5 412V437M851.5 419V441M854.5 388V423M857.5 394V420M860.5 408V460M863.5 417V463M866.5 409V444M869.5 436V451M872.5 424V468M875.5 455V492M878.5 471V482M881.5 474V495M884.5 481V519M887.5 473V521M890.5 450V479M893.5 456V483M896.5 480V518M899.5 490V521M902.5 488V505M905.5 475V508M908.5 457V479M911.5 467V501M914.5 490V529M917.5 488V519M920.5 500V531M923.5 498V524M926.5 516V541M929.5 515V541M930.5 516V537M933.5 527V537M936.5 503V538M939.5 499V507M942.5 485V504M945.5 475V501M948.5 466V486M951.5 483V514M954.5 500V518M956.5 507V517M959.5 491V513M962.5 493V511M965.5 499V523M968.5 517V533M971.5 509V534M974.5 508V539M977.5 488V521M980.5 473V498M983.5 472V492M986.5 488V496M989.5 485V497M992.5 472V494M995.5 464V481M998.5 454V477M1001.5 463V476M1004.5 461V477M1007.5 469V503M1010.5 498V508M1013.5 500V519M1016.5 516V525M1019.5 517V542M1022.5 530V560M1025.5 548V561M1028.5 545V563M1031.5 553V573M1034.5 547V570M1037.5 544V554M1039.5 530V560M1042.5 527V546M1045.5 540V561M1048.5 556V570M1051.5 545V563M1054.5 556V569M1057.5 545V573M1060.5 542V564M1063.5 555V588M1066.5 582V600M1069.5 591V604M1072.5 593V610M1075.5 594V618M1078.5 593V613M1081.5 600V617M1084.5 588V608M1087.5 590V607M1091.5 563V585M1094.5 549V589M1097.5 537V560M1100.5 542V556M1103.5 537V550M1106.5 530V552M1109.5 525V540M1112.5 513V539M1115.5 508V525M1118.5 513V529M1121.5 499V512M1124.5 480V509M1127.5 479V496M1130.5 479V499M1133.5 488V505M1136.5 489V508M1139.5 483V511M1142.5 507V561M1145.5 538V570M1148.5 538V553M1151.5 540V558M1154.5 535V557M1157.5 529V546M1160.5 533V552M1163.5 534V540" stroke="#6e6e6e" stroke-width="1" fill="none"/>
<path d="M750 647h3v6h-3z" fill="#ff0000"/>
<path d="M752 611h3v34h-3zM755 595h3v16h-3z" fill="#0000ff"/>
<path d="M758 595h3v2h-3z" fill="#ff0000"/>
<path d="M761 574h3v23h-3zM764 557h3v17h-3z" fill="#0000ff"/>
<path d="M767 556h3v4h-3z" fill="#ff0000"/>
<path d="M770 550h3v10h-3zM772 521h3v29h-3zM775 504h3v17h-3z" fill="#0000ff"/>
<path d="M778 504h3v3h-3zM781 515h3v18h-3z" fill="#ff0000"/>
<path d="M784 524h3v9h-3zM787 478h3v46h-3z" fill="#0000ff"/>
<path d="M790 478h3v8h-3zM793 486h3v14h-3z" fill="#ff0000"/>
<path d="M796 491h3v13h-3zM799 488h3v3h-3z" fill="#0000ff"/>
<path d="M802 488h3v5h-3z" fill="#ff0000"/>
<path d="M805 488h3v5h-3zM808 462h3v26h-3z" fill="#0000ff"/>
<path d="M811 456h3v9h-3z" fill="#ff0000"/>
<path d="M814 461h3v5h-3zM817 421h3v40h-3zM820 395h3v26h-3z" fill="#0000ff"/>
<path d="M823 395h3v5h-3zM826 400h3v20h-3z" fill="#ff0000"/>
<path d="M829 401h3v19h-3z" fill="#0000ff"/>
<path d="M832 401h3v7h-3zM835 408h3v2h-3zM838 410h3v5h-3z" fill="#ff0000"/>
<path d="M841 412h3v4h-3z" fill="#0000ff"/>
<path d="M844 412h3v3h-3zM847 415h3v16h-3z" fill="#ff0000"/>
<path d="M850 421h3v10h-3zM853 404h3v17h-3z" fill="#0000ff"/>
<path d="M856 404h3v12h-3zM859 416h3v42h-3z" fill="#ff0000"/>
<path d="M862 424h3v34h-3z" fill="#0000ff"/>
<path d="M865 421h3v22h-3zM868 443h3v5h-3zM871 448h3v8h-3zM874 456h3v17h-3zM877 473h3v6h-3zM880 479h3v4h-3zM883 483h3v35h-3z" fill="#ff0000"/>
<path d="M886 474h3v44h-3zM889 468h3v6h-3z" fill="#0000ff"/>
<path d="M892 468h3v7h-3zM895 482h3v34h-3z" fill="#ff0000"/>
<path d="M898 492h3v24h-3z" fill="#0000ff"/>
<path d="M901 492h3v11h-3z" fill="#ff0000"/>
<path d="M904 477h3v26h-3zM907 465h3v12h-3z" fill="#0000ff"/>
<path d="M910 471h3v23h-3zM913 494h3v21h-3z" fill="#ff0000"/>
<path d="M916 504h3v11h-3z" fill="#0000ff"/>
<path d="M919 504h3v11h-3zM922 515h3v4h-3zM925 522h3v16h-3z" fill="#ff0000"/>
<path d="M928 522h3v17h-3z" fill="#0000ff"/>
<path d="M929 522h3v12h-3z" fill="#ff0000"/>
<path d="M932 533h3v1h-3zM935 505h3v28h-3z" fill="#0000ff"/>
<path d="M938 504h3v1h-3z" fill="#ff0000"/>
<path d="M941 493h3v5h-3zM944 482h3v11h-3z" fill="#0000ff"/>
<path d="M947 482h3v3h-3zM950 485h3v21h-3zM953 506h3v7h-3z" fill="#ff0000"/>
<path d="M955 509h3v4h-3zM958 495h3v14h-3z" fill="#0000ff"/>
<path d="M961 495h3v8h-3zM964 503h3v16h-3zM967 518h3v10h-3z" fill="#ff0000"/>
<path d="M970 516h3v14h-3zM973 516h3v1h-3zM976 494h3v22h-3zM979 478h3v16h-3z" fill="#0000ff"/>
<path d="M982 478h3v10h-3z" fill="#ff0000"/>
<path d="M985 489h3v2h-3zM988 488h3v2h-3zM991 479h3v9h-3zM994 467h3v12h-3z" fill="#0000ff"/>
<path d="M997 467h3v3h-3z" fill="#ff0000"/>
<path d="M1000 468h3v3h-3z" fill="#0000ff"/>
<path d="M1003 468h3v3h-3zM1006 471h3v31h-3zM1009 502h3v2h-3zM1012 504h3v14h-3zM1015 518h3v1h-3zM1018 519h3v20h-3zM1021 539h3v12h-3zM1024 551h3v6h-3z" fill="#ff0000"/>
<path d="M1027 548h3v9h-3z" fill="#0000ff"/>
<path d="M1030 557h3v4h-3z" fill="#ff0000"/>
<path d="M1033 552h3v9h-3zM1036 551h3v1h-3zM1038 534h3v20h-3z" fill="#0000ff"/>
<path d="M1041 534h3v10h-3zM1044 544h3v13h-3zM1047 557h3v3h-3zM1050 560h3v1h-3z" fill="#ff0000"/>
<path d="M1053 559h3v2h-3zM1056 554h3v6h-3z" fill="#0000ff"/>
<path d="M1059 554h3v2h-3zM1062 556h3v29h-3zM1065 585h3v13h-3z" fill="#ff0000"/>
<path d="M1068 596h3v4h-3z" fill="#0000ff"/>
<path d="M1071 596h3v12h-3z" fill="#ff0000"/>
<path d="M1074 601h3v5h-3z" fill="#0000ff"/>
<path d="M1077 601h3v11h-3z" fill="#ff0000"/>
<path d="M1080 602h3v10h-3zM1083 592h3v10h-3z" fill="#0000ff"/>
<path d="M1086 592h3v8h-3zM1090 565h3v18h-3z" fill="#ff0000"/>
<path d="M1093 552h3v31h-3z" fill="#0000ff"/>
<path d="M1096 552h3v1h-3z" fill="#ff0000"/>
<path d="M1099 549h3v4h-3zM1102 543h3v6h-3zM1105 536h3v14h-3zM1108 532h3v4h-3zM1111 515h3v18h-3z" fill="#0000ff"/>
<path d="M1114 515h3v8h-3z" fill="#ff0000"/>
<path d="M1117 519h3v4h-3zM1120 504h3v8h-3zM1123 487h3v17h-3zM1126 481h3v6h-3z" fill="#0000ff"/>
<path d="M1129 481h3v10h-3zM1132 491h3v12h-3z" fill="#ff0000"/>
<path d="M1135 492h3v16h-3z" fill="#0000ff"/>
<path d="M1138 492h3v16h-3zM1141 508h3v51h-3z" fill="#ff0000"/>
<path d="M1144 544h3v15h-3z" fill="#0000ff"/>
<path d="M1147 544h3v5h-3z" fill="#ff0000"/>
<path d="M1150 547h3v8h-3zM1153 536h3v11h-3z" fill="#0000ff"/>
<path d="M1156 536h3v8h-3z" fill="#ff0000"/>
<path d="M1159 535h3v9h-3z" fill="#0000ff"/>
<path d="M1162 535h3v4h-3z" fill="#ff0000"/>
<rect x="854.5" y="450.5" width="449" height="23" fill="none" stroke="#333"/>
<rect x="779.5" y="522.5" width="524" height="23" fill="none" stroke="#333"/>
<rect x="740.5" y="622.5" width="563" height="16" fill="rgba(255,255,255,0.45)" stroke="#333"/>
<path d="M1329.2 388.8H1397.4A8 8 0 0 1 1405.4 396.8V425.9A8 8 0 0 1 1397.4 433.9H1329.8L1314.1 443.8L1321.2 426.1V396.8A8 8 0 0 1 1329.2 388.8Z" fill="rgba(224,102,102,0.33)" stroke="rgba(224,102,102,0.75)" stroke-width="1.6" stroke-linejoin="round"/>
<text x="1332.6" y="408.8" font-family='"DejaVu Sans",Verdana,sans-serif' font-size="11.6" fill="#2a2a2a" textLength="63.3" lengthAdjust="spacing">Resistance</text>
<text x="1332.6" y="420.7" font-family='"DejaVu Sans",Verdana,sans-serif' font-size="11.6" fill="#2a2a2a">area</text>
<path d="M1337.5 550.5H1403.4A8 8 0 0 1 1411.4 558.5V585.8A8 8 0 0 1 1403.4 593.8H1335.9A8 8 0 0 1 1327.9 585.8V560L1317.2 538.2Z" fill="rgba(224,102,102,0.33)" stroke="rgba(224,102,102,0.75)" stroke-width="1.6" stroke-linejoin="round"/>
<text x="1338.6" y="569.7" font-family='"DejaVu Sans",Verdana,sans-serif' font-size="11.6" fill="#2a2a2a" textLength="63.3" lengthAdjust="spacing">Resistance</text>
<text x="1338.6" y="581.5" font-family='"DejaVu Sans",Verdana,sans-serif' font-size="11.6" fill="#2a2a2a">area</text>
<path d="M933 567.7H984.6A8 8 0 0 1 992.6 575.7V602.9L1002.1 631.2L977.7 612.4H933A8 8 0 0 1 925 604.4V575.7A8 8 0 0 1 933 567.7Z" fill="rgba(224,102,102,0.33)" stroke="rgba(224,102,102,0.75)" stroke-width="1.6" stroke-linejoin="round"/>
<text x="935.4" y="588" font-family='"DejaVu Sans",Verdana,sans-serif' font-size="11.6" fill="#2a2a2a">Support</text>
<text x="935.4" y="599.3" font-family='"DejaVu Sans",Verdana,sans-serif' font-size="11.6" fill="#2a2a2a">area</text>
<rect x="1305.5" y="450.5" width="77" height="13" fill="#dfe8f1" stroke="#6f8ba8" stroke-width="1"/>
<text x="1309.7 1315.4 1321.1 1326.7 1332.4 1338.1 1343.8 1349.4 1355.1 1360.8 1366.4 1372.1 1377.8" y="460.7" font-family='"DejaVu Sans",Verdana,sans-serif' font-size="9.2" fill="#000" stroke="#000" stroke-width="0.2" text-anchor="middle">115.62-114.60</text>
<rect x="1305.5" y="524.5" width="77" height="13" fill="#dfe8f1" stroke="#6f8ba8" stroke-width="1"/>
<text x="1309.7 1315.4 1321.1 1326.7 1332.4 1338.1 1343.8 1349.4 1355.1 1360.8 1366.4 1372.1 1377.8" y="534.7" font-family='"DejaVu Sans",Verdana,sans-serif' font-size="9.2" fill="#000" stroke="#000" stroke-width="0.2" text-anchor="middle">111.35-112.37</text>
<rect x="1305.5" y="624.5" width="77" height="13" fill="#dfe8f1" stroke="#6f8ba8" stroke-width="1"/>
<text x="1309.7 1315.4 1321.1 1326.7 1332.4 1338.1 1343.8 1349.4 1355.1 1360.8 1366.4 1372.1 1377.8" y="634.7" font-family='"DejaVu Sans",Verdana,sans-serif' font-size="9.2" fill="#000" stroke="#000" stroke-width="0.2" text-anchor="middle">107.15-107.90</text>
</g>
<path d="M1442.5 397.5h3.5" stroke="#555" stroke-width="1"/>
<text x="1449.2" y="401.6" font-family='"Liberation Sans",Arial,sans-serif' font-size="10.7" fill="#555">118.000</text>
<path d="M1442.5 442.5h3.5" stroke="#555" stroke-width="1"/>
<text x="1449.2" y="446.2" font-family='"Liberation Sans",Arial,sans-serif' font-size="10.7" fill="#555">116.000</text>
<path d="M1442.5 486.5h3.5" stroke="#555" stroke-width="1"/>
<text x="1449.2" y="490.8" font-family='"Liberation Sans",Arial,sans-serif' font-size="10.7" fill="#555">114.000</text>
<path d="M1442.5 531.5h3.5" stroke="#555" stroke-width="1"/>
<text x="1449.2" y="535.4" font-family='"Liberation Sans",Arial,sans-serif' font-size="10.7" fill="#555">112.000</text>
<path d="M1442.5 575.5h3.5" stroke="#555" stroke-width="1"/>
<text x="1449.2" y="580" font-family='"Liberation Sans",Arial,sans-serif' font-size="10.7" fill="#555">110.000</text>
<path d="M1442.5 620.5h3.5" stroke="#555" stroke-width="1"/>
<text x="1449.2" y="624.6" font-family='"Liberation Sans",Arial,sans-serif' font-size="10.7" fill="#555">108.000</text>
<path d="M1442.5 665.5h3.5" stroke="#555" stroke-width="1"/>
<text x="1449.2" y="669.2" font-family='"Liberation Sans",Arial,sans-serif' font-size="10.7" fill="#555">106.000</text>
<rect x="1442" y="530" width="49" height="16" fill="#f00"/>
<path d="M1442.5 537.5h3.5" stroke="#fff" stroke-width="1"/>
<text x="1449.5" y="542.2" font-family='"Liberation Sans",Arial,sans-serif' font-size="11" font-weight="bold" fill="#fff" textLength="36" lengthAdjust="spacingAndGlyphs">111.698</text>
<g clip-path="url(#cDx)">
<path d="M754.5 681.5v3" stroke="#555" stroke-width="1"/>
<text x="753.5" y="696" font-family='"Liberation Sans",Arial,sans-serif' font-size="11" fill="#555" text-anchor="middle">14</text>
<path d="M856.5 681.5v3" stroke="#555" stroke-width="1"/>
<text x="855.6" y="696" font-family='"Liberation Sans",Arial,sans-serif' font-size="11" fill="#555" text-anchor="middle" font-weight="bold">2017</text>
<path d="M978.5 681.5v3" stroke="#555" stroke-width="1"/>
<text x="977.5" y="696" font-family='"Liberation Sans",Arial,sans-serif' font-size="11" fill="#555" text-anchor="middle">Mar</text>
<path d="M1106.5 681.5v3" stroke="#555" stroke-width="1"/>
<text x="1106.4" y="696" font-family='"Liberation Sans",Arial,sans-serif' font-size="11" fill="#555" text-anchor="middle">May</text>
<path d="M1241.5 681.5v3" stroke="#555" stroke-width="1"/>
<text x="1241.4" y="696" font-family='"Liberation Sans",Arial,sans-serif' font-size="11" fill="#555" text-anchor="middle">Jul</text>
<path d="M1373.5 681.5v3" stroke="#555" stroke-width="1"/>
<text x="1373.3" y="696" font-family='"Liberation Sans",Arial,sans-serif' font-size="11" fill="#555" text-anchor="middle">Sep</text>
</g>
</svg></body></html>
